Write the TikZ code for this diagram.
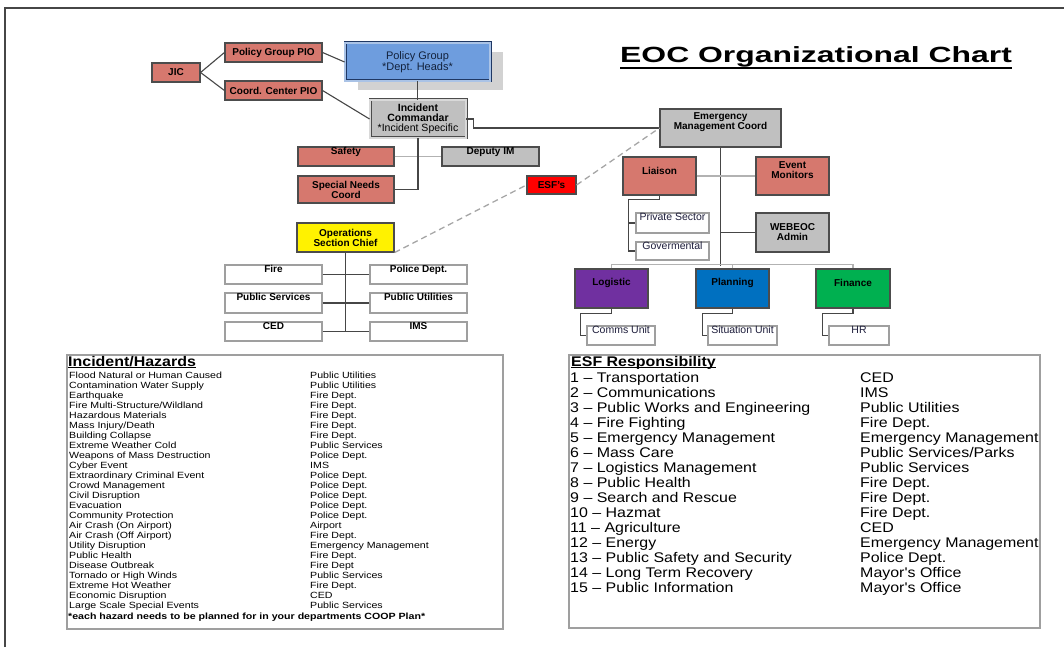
\documentclass[tikz,border=0pt]{standalone}
\usepackage{fontspec}
\setmainfont{Liberation Sans}
\newfontfamily\tabf[FakeStretch=1.18]{Liberation Sans}
\newfontfamily\esff[FakeStretch=1.14]{Liberation Sans}
\newfontfamily\ttlf[FakeStretch=1.45]{Liberation Sans}
\usetikzlibrary{shadows}
\definecolor{salmon}{RGB}{214,120,110}
\definecolor{boxgrey}{RGB}{192,192,192}
\definecolor{pgblue}{RGB}{110,157,222}
\definecolor{pgnavy}{RGB}{31,56,100}
\definecolor{pgpale}{RGB}{170,195,230}
\definecolor{purp}{RGB}{112,48,160}
\definecolor{planblue}{RGB}{0,112,192}
\definecolor{fingreen}{RGB}{0,176,80}
\definecolor{linkc}{RGB}{70,70,70}
\definecolor{subtext}{RGB}{30,30,60}
\begin{document}
\begin{tikzpicture}[x=1pt,y=-1pt,
  every node/.style={inner sep=0pt},
  sz/.style 2 args={minimum width=#1pt, minimum height=#2pt},
  box/.style={draw=black!70, line width=1.1pt, align=center,
    font=\fontsize{10}{10}\selectfont\bfseries},
  sal/.style={box, fill=salmon},
  gry/.style={box, fill=boxgrey},
  wht/.style={draw=gray!75, line width=1.1pt, fill=white},
  topb/.style={label={[font=\fontsize{10}{10}\selectfont\bfseries, anchor=base, yshift=-8pt]north:#1}},
  topr/.style={label={[font=\fontsize{10.5}{10}\selectfont, text=subtext, anchor=base, yshift=-8pt]north:#1}},
  hi/.style={label={[font=\fontsize{10}{10}\selectfont\bfseries, align=center, anchor=center, yshift=-14pt]north:#1}},
  link/.style={draw=linkc, line width=1.1pt},
  soft/.style={draw=gray!60, line width=1.1pt},
  dsh/.style={draw=gray!70, line width=1.3pt, dash pattern=on 6pt off 4pt},
  tbl/.style={draw=gray!75, line width=1.3pt, fill=white},
  hzt/.style={font=\tabf\fontsize{9}{9}\selectfont, text=black, anchor=base west},
  esft/.style={font=\esff\fontsize{14}{14}\selectfont, text=black, anchor=base west},
  hdr/.style={font=\esff\fontsize{14}{14}\selectfont\bfseries, anchor=base west}
]
\useasboundingbox (0,0) rectangle (1064,647);
\draw[line width=1.8pt, draw=gray!55!black] (5,647) -- (5,8) -- (1064,8);

% title
\node[font=\ttlf\fontsize{22}{22}\selectfont\bfseries, anchor=base west] (title) at (620,63) {EOC Organizational Chart};
\draw[line width=2.4pt] ([yshift=-5pt]title.base west) -- ([yshift=-5pt]title.base east);

% left chart
\node[sal, sz={48}{19}] (jic) at (176,72.5) {JIC};
\node[sal, sz={97}{19}] (pgpio) at (273.5,52.5) {Policy Group PIO};
\node[sal, sz={97}{19}] (ccpio) at (273.5,90.5) {Coord. Center PIO};
\node[draw=pgnavy, double=pgpale, double distance=1.2pt, line width=0.9pt, fill=pgblue,
  sz={145}{38}, align=center, text=pgnavy!60!black,
  drop shadow={shadow xshift=13pt, shadow yshift=-9pt, fill=gray!35, opacity=1},
  font=\fontsize{11}{10}\selectfont] (pg) at (417.5,62) {Policy Group\\*Dept. Heads*};
\node[draw=black!70, double=gray!30, double distance=1.2pt, line width=0.9pt, fill=boxgrey,
  sz={96}{38}, align=center, font=\fontsize{10.5}{10}\selectfont]
  (ic) at (418,119) {\textbf{Incident}\\\textbf{Commandar}\\*Incident Specific};
\node[sal, sz={96}{19}, topb=Safety] (safety) at (346,156.5) {};
\node[gry, sz={97}{19}, topb={Deputy IM}] (deputy) at (490.5,156.5) {};
\node[sal, sz={96}{27}] (snc) at (346,189.5) {Special Needs\\Coord};
\node[box, fill=red, sz={49}{18}] (esf) at (551.5,185) {ESF's};
\node[box, fill=yellow, sz={97}{29}] (osc) at (345.5,237.5) {Operations\\Section Chief};
\node[wht, sz={97}{19}, topb=Fire] (fire) at (273.5,274.5) {};
\node[wht, sz={97}{19}, topb={Police Dept.}] (police) at (418.5,274.5) {};
\node[wht, sz={97}{20}, topb={Public Services}] (pubserv) at (273.5,303) {};
\node[wht, sz={97}{20}, topb={Public Utilities}] (pubutil) at (418.5,303) {};
\node[wht, sz={97}{19}, topb=CED] (ced) at (273.5,331.5) {};
\node[wht, sz={97}{19}, topb=IMS] (ims) at (418.5,331.5) {};

% right chart
\node[gry, sz={121}{38}, hi={Emergency\\Management Coord}] (emc) at (720.5,128) {};
\node[sal, sz={73}{38}, hi=Liaison] (liaison) at (659.5,176) {};
\node[sal, sz={73}{38}, hi={Event\\Monitors}] (event) at (792.5,176) {};
\node[gry, sz={73}{39}] (webeoc) at (792.5,232.5) {WEBEOC\\Admin};
\node[wht, sz={73}{20}, topr={Private Sector}] (private) at (672.5,223) {};
\node[wht, sz={73}{18}, topr=Govermental] (gov) at (672.5,251) {};
\node[box, fill=purp, sz={73}{39}, hi=Logistic] (logistic) at (611.5,288.5) {};
\node[box, fill=planblue, sz={73}{39}, hi=Planning] (planning) at (732.5,288.5) {};
\node[box, fill=fingreen, sz={74}{39}, hi=Finance] (finance) at (853,288.5) {};
\node[wht, sz={68}{19}, topr={Comms Unit}] (comms) at (621,335.5) {};
\node[wht, sz={69}{19}, topr={Situation Unit}] (situation) at (742.5,335.5) {};
\node[wht, sz={60}{19}, topr=HR] (hr) at (859,335.5) {};

% connectors left
\draw[link] (jic.east) -- (pgpio.west);
\draw[link] (jic.east) -- (ccpio.west);
\draw[link] (pgpio.east) -- (pg.west);
\draw[link] (ccpio.east) -- (ic.west);
\draw[link] (pg.south) -- (pg.south |- ic.north);
\draw[link] (ic.east) -- ++(7,0) |- (emc.west);
\draw[soft] (safety.east) -- (deputy.west);
\draw[link] (ic.south) |- (snc.east);
\draw[dsh] (osc.south east) -- (esf.west);
\draw[dsh] (esf.east) -- (emc.west);
\draw[link] (osc.south) -- (osc.south |- ced.east);
\draw[link] (fire.east) -- (police.west);
\draw[link] (pubserv.east) -- (pubutil.west);
\draw[link] (ced.east) -- (ims.west);

% connectors right
\draw[link] (emc.south) -- ++(0,118);
\draw[soft] (logistic.north) -- ++(0,-4) -| (finance.north);
\draw[soft] (planning.north) -- ++(0,-4);
\draw[soft] (liaison.east) -- (event.west);
\draw[link] (webeoc.west) -- (webeoc.west -| emc.south);
\draw[link] (liaison.south) -- ++(0,4) -| ([xshift=-7pt]gov.west) -- (gov.west);
\draw[link] ([xshift=-7pt]private.west) -- (private.west);
\draw[link] (logistic.south) -- ++(0,5) -| ([xshift=-6pt]comms.west) -- (comms.west);
\draw[link] (planning.south) -- ++(0,5) -| ([xshift=-5pt]situation.west) -- (situation.west);
\draw[link] (finance.south) -- ++(0,5) -| ([xshift=-6pt]hr.west) -- (hr.west);

% incident / hazards table
\node[tbl, sz={436}{274}] (hzbox) at (285,492) {};
\node[hdr] (hzh) at (68,366) {Incident/Hazards};
\draw[line width=1.2pt] ([yshift=-1.8pt]hzh.base west) -- ([yshift=-1.8pt]hzh.base east);
\foreach \a/\b [count=\i] in {
 {Flood Natural or Human Caused}/{Public Utilities},
 {Contamination Water Supply}/{Public Utilities},
 {Earthquake}/{Fire Dept.},
 {Fire Multi-Structure/Wildland}/{Fire Dept.},
 {Hazardous Materials}/{Fire Dept.},
 {Mass Injury/Death}/{Fire Dept.},
 {Building Collapse}/{Fire Dept.},
 {Extreme Weather Cold}/{Public Services},
 {Weapons of Mass Destruction}/{Police Dept.},
 {Cyber Event}/{IMS},
 {Extraordinary Criminal Event}/{Police Dept.},
 {Crowd Management}/{Police Dept.},
 {Civil Disruption}/{Police Dept.},
 {Evacuation}/{Police Dept.},
 {Community Protection}/{Police Dept.},
 {Air Crash (On Airport)}/{Airport},
 {Air Crash (Off Airport)}/{Fire Dept.},
 {Utility Disruption}/{Emergency Management},
 {Public Health}/{Fire Dept.},
 {Disease Outbreak}/{Fire Dept},
 {Tornado or High Winds}/{Public Services},
 {Extreme Hot Weather}/{Fire Dept.},
 {Economic Disruption}/{CED},
 {Large Scale Special Events}/{Public Services}}
{
  \node[hzt] (hl\i) at (69,{368+10.04*\i}) {\a};
  \node[hzt] (hr\i) at (310,{368+10.04*\i}) {\b};
}
\node[hzt, font=\tabf\fontsize{9}{9}\selectfont\bfseries] (hznote) at (68,619)
  {*each hazard needs to be planned for in your departments COOP Plan*};

% ESF table
\node[tbl, sz={471}{273}] (esfbox) at (804.5,491.5) {};
\node[hdr] (esfh) at (571,366) {ESF Responsibility};
\draw[line width=1.2pt] ([yshift=-1.8pt]esfh.base west) -- ([yshift=-1.8pt]esfh.base east);
\foreach \a/\b [count=\i] in {
 {1 – Transportation}/{CED},
 {2 – Communications}/{IMS},
 {3 – Public Works and Engineering}/{Public Utilities},
 {4 – Fire Fighting}/{Fire Dept.},
 {5 – Emergency Management}/{Emergency Management},
 {6 – Mass Care}/{Public Services/Parks},
 {7 – Logistics Management}/{Public Services},
 {8 – Public Health}/{Fire Dept.},
 {9 – Search and Rescue}/{Fire Dept.},
 {10 – Hazmat}/{Fire Dept.},
 {11 – Agriculture}/{CED},
 {12 – Energy}/{Emergency Management},
 {13 – Public Safety and Security}/{Police Dept.},
 {14 – Long Term Recovery}/{Mayor's Office},
 {15 – Public Information}/{Mayor's Office}}
{
  \node[esft] (el\i) at (570,{366.93+15.07*\i}) {\a};
  \node[esft] (er\i) at (860,{366.93+15.07*\i}) {\b};
}
\end{tikzpicture}
\end{document}
